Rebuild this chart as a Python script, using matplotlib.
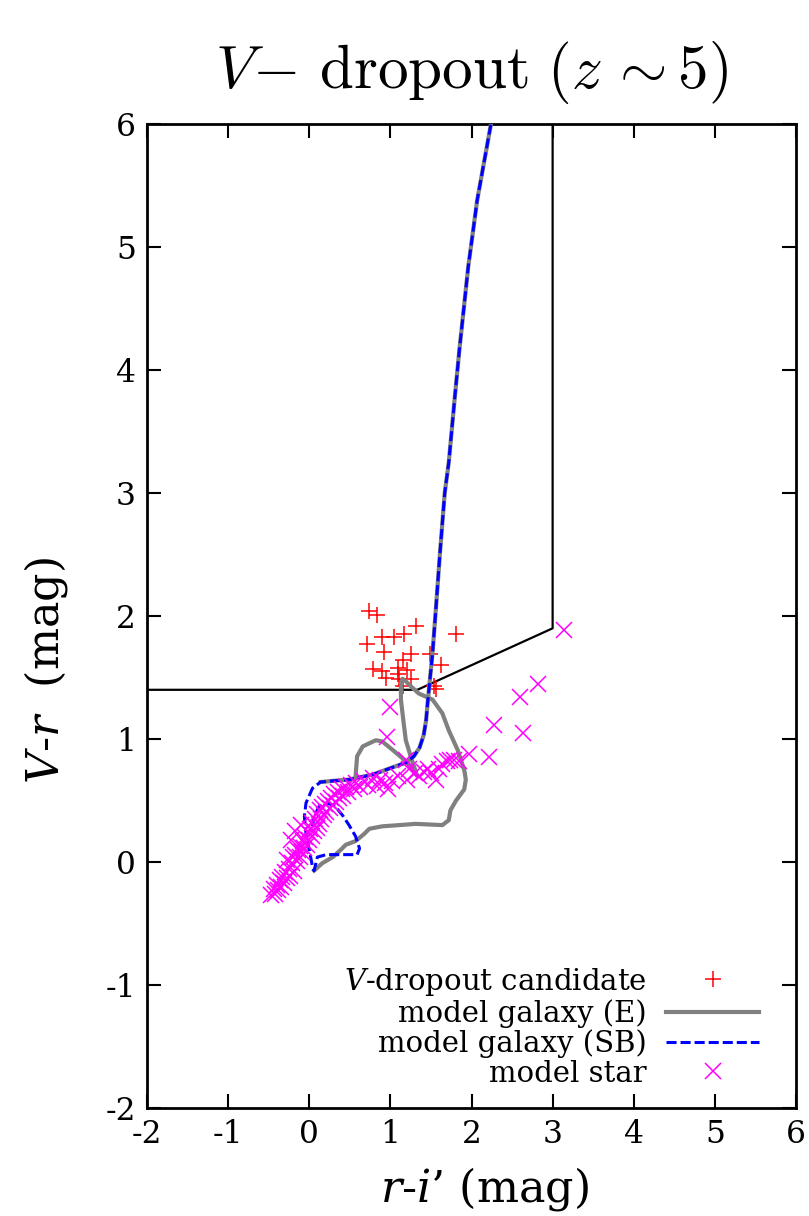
import numpy as np
import matplotlib
matplotlib.use('Agg')
import matplotlib.pyplot as plt

plt.rcParams['font.family'] = ['DejaVu Serif']
plt.rcParams['axes.unicode_minus'] = False

# selection window for V-dropouts
box_x = [-2.0, 1.333, 3.0, 3.0]
box_y = [1.4, 1.4, 1.9, 6.0]

# V-dropout candidates
cand_x = [0.74, 0.83, 1.31, 1.81, 0.90, 1.04, 1.17, 0.71, 0.92, 1.26, 1.16, 1.49,
          1.62, 0.79, 0.90, 1.09, 1.10, 1.20, 0.95, 1.11, 1.26, 1.15, 1.54, 1.56]
cand_y = [2.04, 2.01, 1.92, 1.85, 1.83, 1.83, 1.85, 1.77, 1.71, 1.69, 1.64, 1.69,
          1.60, 1.57, 1.55, 1.58, 1.53, 1.56, 1.50, 1.49, 1.49, 1.43, 1.43, 1.41]

# track shared by both templates at high redshift
hz_x = [0.14, 0.30, 0.49, 0.78, 1.03, 1.20, 1.29, 1.36, 1.41, 1.44, 1.46, 1.49,
        1.52, 1.56, 1.61, 1.67, 1.72, 1.79, 1.85, 1.96, 2.07, 2.24, 2.35]
hz_y = [0.65, 0.66, 0.67, 0.71, 0.77, 0.81, 0.86, 0.93, 1.03, 1.15, 1.30, 1.50,
        1.70, 2.05, 2.50, 3.00, 3.25, 3.75, 4.16, 4.84, 5.38, 6.00, 6.40]

# elliptical template, low-redshift part
e_x = [0.57, 0.59, 0.66, 0.82, 0.90, 1.03, 1.19, 1.31, 1.33, 1.25, 1.19, 1.16,
       1.13, 1.13, 1.15, 1.19, 1.25, 1.35, 1.52, 1.64, 1.72, 1.83, 1.91, 1.93,
       1.91, 1.81, 1.74, 1.72, 1.64, 1.31, 1.11, 0.90, 0.74, 0.68, 0.57, 0.45,
       0.39, 0.29, 0.16, 0.06]
e_y = [0.69, 0.86, 0.94, 0.99, 0.98, 0.91, 0.82, 0.72, 0.70, 0.86, 0.99, 1.15,
       1.32, 1.42, 1.49, 1.47, 1.43, 1.37, 1.32, 1.21, 1.07, 0.91, 0.75, 0.67,
       0.59, 0.50, 0.42, 0.34, 0.30, 0.31, 0.30, 0.29, 0.27, 0.23, 0.17, 0.14,
       0.10, 0.04, -0.01, -0.07]

# starburst template, low-redshift part
sb_x = [0.04, 0.06, 0.12, 0.21, 0.31, 0.41, 0.49, 0.57, 0.62, 0.59, 0.40, 0.21,
        0.10, 0.06, 0.04, 0.00, -0.04, -0.06, -0.04, 0.04]
sb_y = [0.29, 0.37, 0.45, 0.48, 0.46, 0.38, 0.30, 0.21, 0.11, 0.06, 0.06, 0.06,
        0.04, -0.07, -0.04, 0.10, 0.23, 0.37, 0.48, 0.60]

# model stars
star_x = [-0.47, -0.44, -0.42, -0.40, -0.38, -0.36, -0.35, -0.33, -0.31, -0.30,
          -0.28, -0.27, -0.25, -0.24, -0.23, -0.21, -0.20, -0.19, -0.18, -0.17,
          -0.15, -0.14, -0.12, -0.11, -0.10, -0.09, -0.08, -0.06, -0.05, -0.03,
          -0.02, 0.00, 0.01, 0.03, 0.04, 0.06, 0.07, 0.09, 0.10, 0.12,
          0.13, 0.15, 0.16, 0.18, 0.20, 0.21, 0.23, 0.25, 0.27, 0.29,
          0.31, 0.33, 0.35, 0.37, 0.40, 0.42, 0.45, 0.48, 0.51, 0.55,
          0.58, 0.62, 0.68, 0.73, 0.78, 0.83, 0.87, 0.93, 0.97, 1.02,
          0.99, 0.96, 1.10, 1.19, 1.23, 1.21, 1.30, 1.35, 1.42, 1.46,
          1.50, 1.56, 1.60, 1.64, 1.70, 1.74, 1.79, 1.85, 1.97, 2.22,
          2.28, 2.64, 2.60, 2.82, 3.14]
star_y = [-0.27, -0.22, -0.26, -0.19, -0.23, -0.15, -0.20, -0.12, -0.17, -0.08,
          -0.13, 0.02, -0.06, -0.11, 0.18, -0.01, 0.04, -0.07, 0.25, 0.06,
          0.01, 0.10, 0.04, 0.13, 0.30, 0.08, 0.17, 0.11, 0.20, 0.14,
          0.24, 0.18, 0.27, 0.21, 0.32, 0.25, 0.35, 0.28, 0.39, 0.31,
          0.42, 0.35, 0.45, 0.38, 0.47, 0.41, 0.50, 0.44, 0.52, 0.46,
          0.55, 0.49, 0.57, 0.52, 0.59, 0.54, 0.61, 0.57, 0.63, 0.59,
          0.64, 0.61, 0.66, 0.63, 0.68, 0.62, 0.67, 0.64, 0.59, 0.66,
          1.26, 1.02, 0.70, 0.83, 0.76, 0.67, 0.72, 0.70, 0.73, 0.76,
          0.72, 0.67, 0.76, 0.80, 0.82, 0.83, 0.83, 0.82, 0.88, 0.85,
          1.11, 1.05, 1.34, 1.45, 1.89]

fig = plt.figure(figsize=(8.09, 12.16), dpi=100)
ax = fig.add_axes([147 / 809, 1 - 1108 / 1216, 649 / 809, 984 / 1216])

ax.plot(box_x, box_y, color='black', lw=1.6, zorder=2)

ax.plot(cand_x, cand_y, ls='none', marker='+', ms=12, mew=1.1, color='#ff0000',
        label='$V$-dropout candidate', zorder=3)
ax.plot(hz_x, hz_y, color='#808080', lw=3.0, zorder=4,
        label='model galaxy (E)')
ax.plot(e_x, e_y, color='#808080', lw=3.0, zorder=4)
ax.plot(sb_x + hz_x, sb_y + hz_y, color='#0000ff', lw=2.2, ls=(0, (3.3, 1.3)),
        zorder=5, label='model galaxy (SB)')
ax.plot(star_x, star_y, ls='none', marker='x', ms=12, mew=1.1, color='#ff00ff',
        label='model star', zorder=6)

ax.set_xlim(-2, 6)
ax.set_ylim(-2, 6)
ax.set_xticks(np.arange(-2, 7, 1))
ax.set_yticks(np.arange(-2, 7, 1))
ax.tick_params(direction='in', length=10, width=1.5, top=True, right=True,
               labelsize=22.5, pad=8)
for sp in ax.spines.values():
    sp.set_linewidth(2.0)

ax.set_xlabel("$r$-$i$’ (mag)", fontsize=32, math_fontfamily='dejavuserif')
ax.xaxis.set_label_coords(0.52, -0.058)
ax.set_ylabel('$V$-$r$  (mag)', fontsize=32, math_fontfamily='dejavuserif')
ax.yaxis.set_label_coords(-0.118, 0.445)
ax.set_title(r'$V\!-\,\mathrm{dropout}\ (z\,{\sim}5)$', fontsize=44,
             math_fontfamily='cm', pad=26)

# markerfirst=False right-aligns the labels against the samples
leg = ax.legend(loc='lower right', bbox_to_anchor=(0.975, 0.0), frameon=False,
                markerfirst=False, handlelength=3.2, handletextpad=0.65,
                labelspacing=0.05, borderaxespad=0.3,
                prop={'family': 'DejaVu Serif', 'size': 21})
for t in leg.get_texts():
    t.set_math_fontfamily('dejavuserif')

fig.savefig('out.png', dpi=100)
